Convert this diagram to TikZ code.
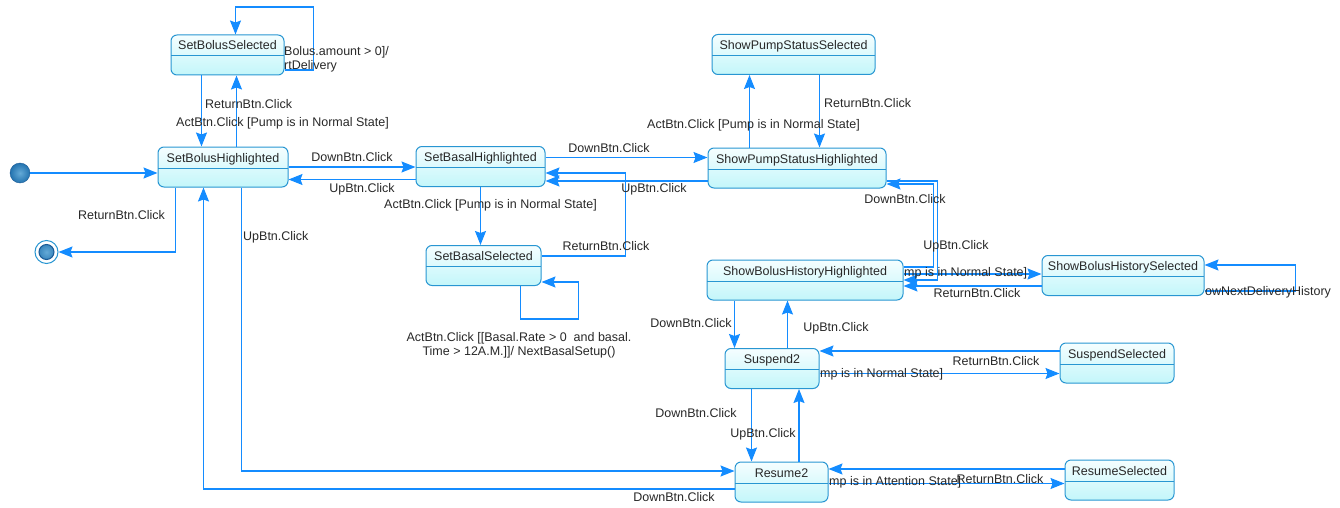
\documentclass[tikz,border=0pt]{standalone}
\usepackage{fontspec}
\setmainfont{Liberation Sans}
\usetikzlibrary{arrows.meta,calc}
\definecolor{edgeblue}{RGB}{20,140,255}
\definecolor{stateline}{RGB}{40,150,210}
\definecolor{statetop}{RGB}{245,254,255}
\definecolor{statebot}{RGB}{195,246,250}
\definecolor{labeltext}{RGB}{40,40,40}
\definecolor{dotin}{RGB}{100,170,215}
\definecolor{dotout}{RGB}{35,115,175}
\definecolor{dotline}{RGB}{25,90,150}
\tikzset{
  state/.style   = {shape=rectangle, rounded corners=6pt, draw=stateline, line width=1pt,
                    top color=statetop, bottom color=statebot,
                    minimum height=40pt, inner ysep=2pt, text height=13pt, text depth=23pt,
                    font=\fontsize{12.5}{14}\selectfont, text=labeltext,
                    path picture={\draw[stateline, line width=1pt]
                      ([yshift=-21pt]path picture bounding box.north west) --
                      ([yshift=-21pt]path picture bounding box.north east);}},
  trans/.style   = {draw=edgeblue, line width=1.2pt,
                    -{Stealth[length=14pt,width=11pt,inset=2pt]}},
  lbl/.style     = {inner sep=0pt, text=labeltext, font=\fontsize{12.5}{14}\selectfont},
  startdot/.style = {shape=circle, minimum size=20pt, inner sep=0pt, draw=dotline,
                    inner color=dotin, outer color=dotout},
  enddot/.style  = {shape=circle, minimum size=23pt, inner sep=0pt, draw=stateline,
                    line width=1pt, fill=white,
                    path picture={\shade[inner color=dotin, outer color=dotout]
                      (path picture bounding box.center) circle (7.5pt);
                      \draw[dotline] (path picture bounding box.center) circle (7.5pt);}},
}
\begin{document}
\begin{tikzpicture}[x=1pt, y=-1pt]
  \useasboundingbox (0,0) rectangle (1340,508);
  % states
  \node[state, minimum width=113pt] (bolusSel)   at (227.5,55)    {SetBolusSelected};
  \node[state, minimum width=130pt] (bolusHi)    at (223,167)     {SetBolusHighlighted};
  \node[state, minimum width=129pt] (basalHi)    at (480.5,166.5) {SetBasalHighlighted};
  \node[state, minimum width=115pt] (basalSel)   at (483.5,265.5) {SetBasalSelected};
  \node[state, minimum width=163pt] (pumpSel)    at (793.5,54.5)  {ShowPumpStatusSelected};
  \node[state, minimum width=178pt] (pumpHi)     at (797,168)     {ShowPumpStatusHighlighted};
  \node[state, minimum width=196pt] (historyHi)  at (805,280)     {ShowBolusHistoryHighlighted};
  \node[state, minimum width=162pt] (historySel) at (1123,275.5)  {ShowBolusHistorySelected};
  \node[state, minimum width=94pt]  (suspend)    at (772,368.5)   {Suspend2};
  \node[state, minimum width=114pt] (suspendSel) at (1117,363)    {SuspendSelected};
  \node[state, minimum width=93pt]  (resume)     at (781.5,482)   {Resume2};
  \node[state, minimum width=109pt] (resumeSel)  at (1119.5,480)  {ResumeSelected};
  \node[startdot] (start) at (20,173) {};
  \node[enddot]   (stop)  at (46.5,252) {};

  % transitions of the SetBolus part
  \draw[trans] (start) -- (start -| bolusHi.west);
  \draw[trans] ([xshift=18pt]bolusHi.south west) |- (stop);
  \draw[trans] ([xshift=31pt]bolusSel.south west) -- ([xshift=44pt]bolusHi.north west);
  \draw[trans] ([xshift=79pt]bolusHi.north west) -- ([xshift=66pt]bolusSel.south west);
  \draw[trans] ([yshift=-15pt]bolusSel.east) -- ++(29,0) -- ++(0,-63)
               -| ([xshift=65pt]bolusSel.north west);
  \draw[trans] (bolusHi.east) -- (bolusHi.east -| basalHi.west);
  \draw[trans] ([yshift=-13pt]basalHi.west) -- ([yshift=-13pt]basalHi.west -| bolusHi.east);
  \draw[trans] ([xshift=84pt]bolusHi.south west) |- ([yshift=11pt]resume.west);
  \draw[trans] ([yshift=-7pt]resume.west) -| ([xshift=46pt]bolusHi.south west);

  % SetBasal part
  \draw[trans] (basalHi.south) -- (basalHi.south |- basalSel.north);
  \draw[trans] ([yshift=9.5pt]basalSel.east) -- ++(84,0) |- ([yshift=-6.5pt]basalHi.east);
  \draw[trans] ([xshift=95pt]basalSel.south west) |- ++(58,33) |- ([yshift=-16.5pt]basalSel.east);
  \draw[trans] ([yshift=9pt]basalHi.east) -- ([yshift=9pt]basalHi.east -| pumpHi.west);
  \draw[trans] ([yshift=-13pt]pumpHi.west) -- ([yshift=-13pt]pumpHi.west -| basalHi.east);

  % ShowPumpStatus part
  \draw[trans] ([xshift=42pt]pumpHi.north west) -- ([xshift=42pt]pumpHi.north west |- pumpSel.south);
  \draw[trans] ([xshift=108pt]pumpSel.south west) -- ([xshift=108pt]pumpSel.south west |- pumpHi.north);
  \draw[trans] ([yshift=-13pt]pumpHi.east) -- ++(51,0) |- ([yshift=0pt]historyHi.east);
  \draw[trans] ([yshift=13pt]historyHi.east) -- ++(30,0) |- ([yshift=-16pt]pumpHi.east);

  % ShowBolusHistory part
  \draw[trans] ([yshift=6pt]historyHi.east) -- ([yshift=6pt]historyHi.east -| historySel.west);
  \draw[trans] ([yshift=-10.5pt]historySel.west) -- ([yshift=-10.5pt]historySel.west -| historyHi.east);
  \draw[trans] ([yshift=-15.5pt]historySel.east) -- ++(91,0) |- ([yshift=10.5pt]historySel.east);
  \draw[trans] ([xshift=28pt]historyHi.south west) -- ([xshift=28pt]historyHi.south west |- suspend.north);
  \draw[trans] ([xshift=63pt]suspend.north west) -- ([xshift=63pt]suspend.north west |- historyHi.south);

  % Suspend / Resume part
  \draw[trans] ([yshift=-5pt]suspend.east) -- ([yshift=-5pt]suspend.east -| suspendSel.west);
  \draw[trans] ([yshift=17.5pt]suspend.east -| suspendSel.west) -- ([yshift=17.5pt]suspend.east);
  \draw[trans] ([xshift=27pt]suspend.south west) -- ([xshift=27pt]suspend.south west |- resume.north);
  \draw[trans] ([xshift=64.5pt]resume.north west) -- ([xshift=64.5pt]resume.north west |- suspend.south);
  \draw[trans] ([yshift=-1.5pt]resume.east) -- ([yshift=-1.5pt]resume.east -| resumeSel.west);
  \draw[trans] ([yshift=13pt]resume.east -| resumeSel.west) -- ([yshift=13pt]resume.east);

  % labels
  \node[lbl] (l1)  at (121.5,215) {ReturnBtn.Click};
  \node[lbl, anchor=west] (l2)  at (205,104) {ReturnBtn.Click};
  \node[lbl, anchor=west] (l3)  at (176,123) {ActBtn.Click [Pump is in Normal State]};
  \node[lbl, anchor=west, align=left] (l4) at (284,59) {Bolus.amount > 0]/\\rtDelivery};
  \node[lbl] (l5)  at (352,157) {DownBtn.Click};
  \node[lbl] (l6)  at (362,189) {UpBtn.Click};
  \node[lbl, anchor=west] (l7)  at (243,237) {UpBtn.Click};
  \node[lbl] (l8)  at (674,497) {DownBtn.Click};
  \node[lbl, anchor=west] (l9)  at (384,205) {ActBtn.Click [Pump is in Normal State]};
  \node[lbl] (l10) at (606,246) {ReturnBtn.Click};
  \node[lbl, align=center] (l11) at (519,345)
    {ActBtn.Click [[Basal.Rate > 0\ \ and basal.\\Time > 12A.M.]]/ NextBasalSetup()};
  \node[lbl] (l12) at (609,148) {DownBtn.Click};
  \node[lbl] (l13) at (654,189) {UpBtn.Click};
  \node[lbl, anchor=west] (l14) at (647,125) {ActBtn.Click [Pump is in Normal State]};
  \node[lbl, anchor=west] (l15) at (824,103) {ReturnBtn.Click};
  \node[lbl] (l16) at (905,199) {DownBtn.Click};
  \node[lbl] (l17) at (956,246) {UpBtn.Click};
  \node[lbl, anchor=west] (l18) at (904,273) {mp is in Normal State]};
  \node[lbl] (l19) at (977,293) {ReturnBtn.Click};
  \node[lbl, anchor=west] (l20) at (1205,292) {owNextDeliveryHistory};
  \node[lbl] (l21) at (691,323) {DownBtn.Click};
  \node[lbl] (l22) at (836,328) {UpBtn.Click};
  \node[lbl, anchor=west] (l23) at (820,374) {mp is in Normal State]};
  \node[lbl] (l24) at (996,361) {ReturnBtn.Click};
  \node[lbl] (l25) at (696,413) {DownBtn.Click};
  \node[lbl] (l26) at (763,434) {UpBtn.Click};
  \node[lbl, anchor=west] (l27) at (829,482) {mp is in Attention State]};
  \node[lbl] (l28) at (1000,479) {ReturnBtn.Click};
\end{tikzpicture}
\end{document}
